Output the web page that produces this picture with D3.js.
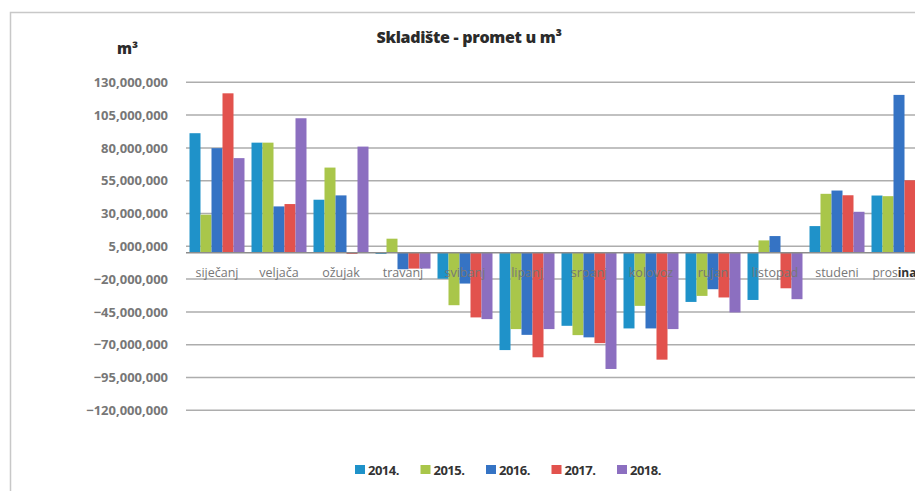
<!DOCTYPE html>
<html>
<head>
<meta charset="UTF-8">
<title>Skladište - promet u m3</title>
<style type="text/css">
	body{ margin:0; background:#fff; }
	text{ font-family: "Open Sans", sans-serif; }
</style>
</head>
<body>
<script src="https://d3js.org/d3.v7.min.js"></script>
<script>
	// data (m3)
	var months = ["siječanj","veljača","ožujak","travanj","svibanj","lipanj","srpanj","kolovoz","rujan","listopad","studeni","prosinac"];
	var years = ["2014.","2015.","2016.","2017.","2018."];
	var colors = ["#1f92c9","#a9c64a","#3573c4","#e2524d","#8c6fc0"];
	var s2014 = [91.2e6, 84.0e6, 40.5e6, -0.8e6, -19.7e6, -74.1e6, -55.6e6, -57.6e6, -37.4e6, -35.9e6, 20.4e6, 43.7e6];
	var s2015 = [29.1e6, 84.0e6, 65.0e6, 10.8e6, -39.9e6, -58.1e6, -62.7e6, -40.4e6, -32.8e6, 9.5e6, 45.0e6, 43.2e6];
	var s2016 = [79.8e6, 35.4e6, 43.8e6, -12.5e6, -23.4e6, -62.5e6, -64.4e6, -57.6e6, -27.7e6, 12.8e6, 47.5e6, 120.4e6];
	var s2017 = [121.6e6, 37.2e6, -0.8e6, -12.0e6, -49.2e6, -79.6e6, -68.8e6, -81.4e6, -34.0e6, -27.0e6, 43.9e6, 55.3e6];
	var s2018 = [72.2e6, 102.6e6, 81.0e6, -12.0e6, -50.5e6, -58.1e6, -88.5e6, -58.1e6, -45.4e6, -35.3e6, 31.3e6, 115.4e6];
	var yTicks = [-120e6,-95e6,-70e6,-45e6,-20e6,5e6,30e6,55e6,80e6,105e6,130e6];

	var series = [s2014, s2015, s2016, s2017, s2018];

	var width = 915, height = 491;
	var svg = d3.select("body").append("svg")
		.attr("width", width)
		.attr("height", height);

	// chart frame (cut off on the right, like the scan)
	svg.append("path")
		.attr("d", "M10.5," + height + "V12.5H" + width)
		.style("fill", "none")
		.style("stroke", "#c8c8c8")
		.style("stroke-width", 1.5);

	var x0 = d3.scaleBand().domain(months).range([186, 930]).paddingInner(0.113).paddingOuter(0.0565);
	var x1 = d3.scaleBand().domain(years).range([0, x0.bandwidth()]);
	var y = d3.scaleLinear().domain([-120e6, 130e6]).range([410.3, 82.3]);

	// gridlines
	svg.append("g").selectAll("line")
		.data(yTicks)
		.enter().append("line")
		.attr("x1", 186).attr("x2", width)
		.attr("y1", function(d){ return y(d); })
		.attr("y2", function(d){ return y(d); })
		.style("stroke", "#adadad")
		.style("stroke-width", 1.5);

	// y axis labels
	var yAxis = d3.axisLeft(y).tickValues(yTicks).tickFormat(d3.format(",")).tickSize(0).tickPadding(18);
	var ya = svg.append("g").attr("transform", "translate(186,0)").call(yAxis);
	ya.select(".domain").remove();
	ya.selectAll("text")
		.style("font-size", "13px")
		.style("font-weight", "bold")
		.style("fill", "#777");

	// bars
	var groups = svg.append("g").selectAll("g")
		.data(months)
		.enter().append("g")
		.attr("transform", function(d){ return "translate(" + x0(d) + ",0)"; });

	groups.selectAll("rect")
		.data(function(m, i){ return series.map(function(s, k){ return {year: years[k], v: s[i], c: colors[k]}; }); })
		.enter().append("rect")
		.attr("x", function(d){ return x1(d.year); })
		.attr("width", x1.bandwidth())
		.attr("y", function(d){ return y(Math.max(0, d.v)); })
		.attr("height", function(d){ return Math.abs(y(d.v) - y(0)); })
		.style("fill", function(d){ return d.c; });

	// zero axis
	svg.append("line")
		.attr("x1", 186).attr("x2", width)
		.attr("y1", y(0)).attr("y2", y(0))
		.style("stroke", "#8c8c8c")
		.style("stroke-width", 1.5);

	// month labels
	svg.append("g").selectAll("text")
		.data(months)
		.enter().append("text")
		.attr("x", function(d){ return x0(d) + x0.bandwidth() / 2; })
		.attr("y", 277)
		.style("text-anchor", "middle")
		.style("font-size", "12.5px")
		.style("fill", "#777")
		.text(function(d){ return d == "prosinac" ? null : d; });

	// last label is half covered in the scan, keep it inside the page
	var last = svg.append("text")
		.attr("x", x0("prosinac") + 1)
		.attr("y", 277)
		.style("font-size", "12px");
	last.append("tspan").style("fill", "#777").text("pros");
	last.append("tspan").style("fill", "#333").style("font-weight", "bold").text("ina");

	// title and unit
	svg.append("text")
		.attr("x", 469).attr("y", 43)
		.style("text-anchor", "middle")
		.style("font-size", "16px")
		.style("font-weight", "800")
		.style("fill", "#2b2b2b")
		.style("letter-spacing", "-0.3px")
		.text("Skladište - promet u m³");

	svg.append("text")
		.attr("x", 117).attr("y", 54)
		.style("font-size", "15px")
		.style("font-weight", "800")
		.style("fill", "#2b2b2b")
		.text("m³");

	// legend
	var leg = svg.append("g").selectAll("g")
		.data(years)
		.enter().append("g")
		.attr("transform", function(d, i){ return "translate(" + (355 + i * 65.5) + ",470)"; });
	leg.append("rect")
		.attr("x", 0).attr("y", -5)
		.attr("width", 10).attr("height", 9)
		.style("fill", function(d, i){ return colors[i]; });
	leg.append("text")
		.attr("x", 13).attr("y", 5)
		.style("font-size", "13px")
		.style("font-weight", "bold")
		.style("fill", "#333")
		.style("letter-spacing", "-0.5px")
		.text(function(d){ return d; });
</script>
</body>
</html>
